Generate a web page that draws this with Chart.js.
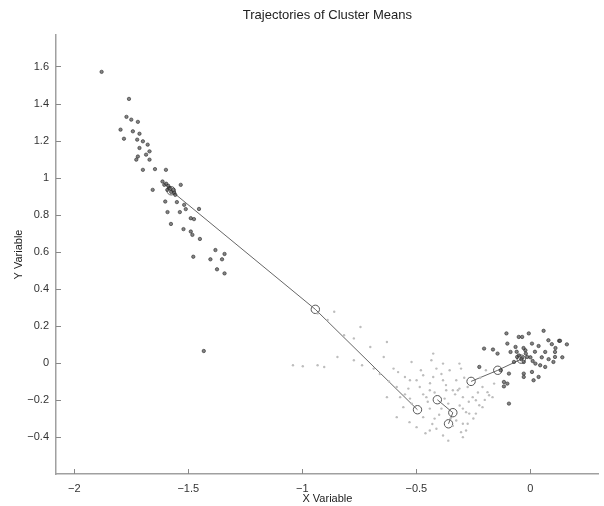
<!DOCTYPE html>
<html>
<head>
<meta charset="utf-8">
<script src="https://cdn.jsdelivr.net/npm/chart.js@4.4.1/dist/chart.umd.min.js"></script>
<style>
html,body{margin:0;padding:0;background:#fff;}
#wrap{width:604px;height:506px;position:relative;}
</style>
</head>
<body>
<div id="wrap"><canvas id="c" width="604" height="506"></canvas></div>
<script>
const chartTitle = "Trajectories of Cluster Means";
const xTitle = "X Variable";
const yTitle = "Y Variable";
const xTicks = [-2, -1.5, -1, -0.5, 0];
const yTicks = [-0.4, -0.2, 0, 0.2, 0.4, 0.6, 0.8, 1, 1.2, 1.4, 1.6];
const xRange = [-2.08, 0.30];
const yRange = [-0.60, 1.77];

// upper-left cluster (dark marks)
const clusterAX = [-1.880,-1.760,-1.771,-1.750,-1.721,-1.797,-1.743,-1.714,-1.782,-1.724,-1.699,-1.678,-1.714,-1.670,-1.721,-1.685,-1.728,-1.670,-1.699,-1.646,-1.598,-1.613,-1.605,-1.533,-1.656,
  -1.592,-1.584,-1.575,-1.566,-1.562,-1.588,-1.579,-1.557,-1.597,
  -1.601,-1.550,-1.518,-1.511,-1.453,-1.591,-1.537,-1.489,-1.475,-1.576,-1.521,-1.489,-1.482,-1.449,-1.381,-1.341,-1.478,-1.403,-1.352,-1.374,-1.341,-1.432];
const clusterAY = [1.571,1.425,1.328,1.313,1.301,1.259,1.250,1.237,1.210,1.205,1.196,1.178,1.160,1.142,1.114,1.124,1.097,1.097,1.042,1.046,1.042,0.979,0.961,0.961,0.934,
  0.934,0.945,0.923,0.934,0.918,0.956,0.940,0.907,0.967,
  0.871,0.868,0.853,0.830,0.831,0.814,0.814,0.781,0.776,0.750,0.722,0.709,0.691,0.669,0.609,0.588,0.573,0.559,0.559,0.505,0.483,0.064];

// lower-middle cluster (light grey dots)
const clusterBX = [-1.041,-0.998,-0.933,-0.904,-0.738,-0.687,-0.600,-0.521,-0.434,-0.412,-0.354,-0.304,-0.550,-0.499,-0.470,-0.426,-0.383,-0.325,-0.586,-0.535,-0.485,-0.441,-0.369,-0.318,-0.275,
  -0.571,-0.528,-0.456,-0.376,-0.296,-0.253,-0.557,-0.441,-0.390,-0.296,-0.268,-0.470,-0.420,-0.325,-0.275,-0.499,-0.412,-0.304,-0.383,-0.296,
  -0.774,-0.846,-0.817,-0.745,-0.889,-0.933,-0.860,-0.774,-0.702,-0.643,-0.629,
  -0.239,-0.210,-0.181,-0.239,-0.296,-0.282,-0.441,-0.586,-0.629,-0.528,-0.311,-0.383,-0.426,-0.195,-0.159,-0.340,-0.311,-0.224,-0.282,-0.188,-0.166,-0.210,
  -0.450,-0.420,-0.360,-0.330,-0.310,-0.370,-0.470,-0.520,-0.400,-0.350,-0.270,-0.230,-0.440,-0.550,-0.620,-0.660,-0.580,-0.480,-0.390,-0.290,-0.220,-0.340,-0.430,-0.250,-0.200,-0.530,-0.460,-0.360];
const clusterBY = [-0.013,-0.018,-0.013,-0.022,-0.013,-0.031,-0.031,0.005,0.014,-0.031,-0.040,-0.031,-0.076,-0.094,-0.067,-0.076,-0.094,-0.094,-0.130,-0.139,-0.130,-0.148,-0.148,-0.148,-0.130,
  -0.185,-0.193,-0.185,-0.193,-0.185,-0.185,-0.239,-0.247,-0.247,-0.247,-0.274,-0.293,-0.301,-0.311,-0.329,-0.347,-0.356,-0.374,-0.392,-0.401,
  0.014,0.032,0.149,0.194,0.231,0.267,0.276,0.132,0.086,0.032,0.113,
  -0.202,-0.239,-0.175,-0.274,-0.329,-0.365,-0.365,-0.293,-0.185,-0.094,-0.004,-0.004,0.050,-0.040,-0.112,-0.148,-0.139,-0.229,-0.266,-0.158,-0.185,-0.130,
  -0.210,-0.160,-0.220,-0.170,-0.230,-0.120,-0.170,-0.220,-0.280,-0.300,-0.210,-0.160,-0.110,-0.170,-0.100,-0.060,-0.050,-0.040,-0.060,-0.080,-0.080,-0.340,-0.330,-0.300,-0.200,-0.320,-0.380,-0.420];

// right cluster (dark marks)
const clusterCX = [-0.105,-0.007,0.058,-0.051,-0.036,-0.203,-0.164,-0.101,-0.065,0.007,0.036,0.079,0.126,0.094,-0.144,-0.087,-0.022,0.065,0.108,-0.058,-0.036,-0.014,-0.029,-0.072,0.022,
  0.043,0.065,0.101,0.108,-0.224,-0.130,-0.094,-0.029,-0.029,0.007,0.036,0.014,-0.116,-0.101,-0.116,-0.094,0.130,
  -0.050,-0.040,-0.020,0.000,-0.060,0.010,-0.030,0.020,0.050,0.080,0.110,0.160,0.140];
const clusterCY = [0.159,0.159,0.173,0.140,0.140,0.077,0.072,0.104,0.086,0.104,0.091,0.122,0.119,0.101,0.050,0.059,0.068,0.059,0.059,0.032,0.027,0.032,0.005,0.005,-0.004,
  -0.013,-0.022,0.005,0.032,-0.022,-0.040,-0.058,-0.058,-0.076,-0.049,-0.076,-0.094,-0.103,-0.112,-0.127,-0.220,0.119,
  0.040,0.020,0.050,0.030,0.060,0.010,0.080,0.060,0.030,0.020,0.080,0.100,0.030];

// trajectories of cluster means
const traj1X = [-1.575, -0.943, -0.495];
const traj1Y = [0.929, 0.289, -0.253];
const traj2X = [-0.359, -0.340, -0.408];
const traj2Y = [-0.329, -0.269, -0.199];
const traj3X = [-0.260, -0.143, -0.040];
const traj3Y = [-0.100, -0.040, 0.020];

const pts = (xs, ys) => xs.map((x, i) => ({x: x, y: ys[i]}));

const FONT = "'Liberation Sans', Arial, Helvetica, sans-serif";

const darkPoint = {
  showLine: false,
  pointStyle: 'circle',
  pointRadius: 1.7,
  pointBackgroundColor: 'rgba(90,90,90,0.75)',
  pointBorderColor: 'rgba(30,30,30,0.8)',
  pointBorderWidth: 0.7
};

const trajStyle = {
  showLine: true,
  borderColor: '#666',
  borderWidth: 1,
  pointStyle: 'circle',
  pointRadius: 4.2,
  pointBackgroundColor: 'rgba(255,255,255,0)',
  pointBorderColor: '#555',
  pointBorderWidth: 1
};

const innerTicks = {
  id: 'innerTicks',
  afterDraw(chart) {
    const ctx = chart.ctx;
    const xs = chart.scales.x, ys = chart.scales.y;
    const a = chart.chartArea;
    ctx.save();
    ctx.strokeStyle = '#888';
    ctx.lineWidth = 1;
    ctx.beginPath();
    xTicks.forEach(v => {
      const p = Math.round(xs.getPixelForValue(v)) + 0.5;
      ctx.moveTo(p, a.bottom);
      ctx.lineTo(p, a.bottom - 5);
    });
    yTicks.forEach(v => {
      const p = Math.round(ys.getPixelForValue(v)) + 0.5;
      ctx.moveTo(a.left, p);
      ctx.lineTo(a.left + 5, p);
    });
    ctx.stroke();
    // title
    ctx.fillStyle = '#222';
    ctx.font = '13px ' + FONT;
    ctx.textAlign = 'center';
    ctx.textBaseline = 'middle';
    ctx.fillText(chartTitle, (a.left + a.right) / 2, 15);
    ctx.restore();
  }
};

new Chart(document.getElementById('c'), {
  type: 'scatter',
  data: {
    datasets: [
      Object.assign({ label: 'Cluster B', data: pts(clusterBX, clusterBY),
        showLine: false, pointRadius: 1.2, pointBackgroundColor: '#bdbdbd', pointBorderWidth: 0 }),
      Object.assign({ label: 'Cluster A', data: pts(clusterAX, clusterAY) }, darkPoint),
      Object.assign({ label: 'Cluster C', data: pts(clusterCX, clusterCY) }, darkPoint),
      Object.assign({ label: 'Trajectory 1', data: pts(traj1X, traj1Y) }, trajStyle),
      Object.assign({ label: 'Trajectory 2', data: pts(traj2X, traj2Y) }, trajStyle),
      Object.assign({ label: 'Trajectory 3', data: pts(traj3X, traj3Y) }, trajStyle)
    ]
  },
  options: {
    responsive: false,
    animation: false,
    layout: { padding: { top: 35, right: 0, left: 0, bottom: 0 } },
    plugins: { legend: { display: false }, tooltip: { enabled: false } },
    scales: {
      x: {
        type: 'linear',
        min: xRange[0], max: xRange[1],
        afterBuildTicks: s => { s.ticks = xTicks.map(v => ({value: v})); },
        afterFit: s => { s.height = 32; },
        grid: { display: true, drawOnChartArea: false, drawTicks: false },
        border: { display: true, color: '#a0a0a0', width: 1.5 },
        ticks: { color: '#333', font: { size: 11, family: FONT }, padding: 8,
          maxRotation: 0, autoSkip: false, callback: v => String(v).replace('-', '\u2212') },
        title: { display: true, text: xTitle, color: '#222', font: { size: 11, family: FONT }, padding: { top: 0, bottom: 0 } }
      },
      y: {
        type: 'linear',
        min: yRange[0], max: yRange[1],
        afterBuildTicks: s => { s.ticks = yTicks.map(v => ({value: v})); },
        afterFit: s => { s.width = 56; },
        grid: { display: true, drawOnChartArea: false, drawTicks: false },
        border: { display: true, color: '#a0a0a0', width: 1.5 },
        ticks: { color: '#333', font: { size: 11, family: FONT }, padding: 7,
          autoSkip: false, callback: v => String(Math.round(v * 10) / 10).replace('-', '\u2212') },
        title: { display: true, text: yTitle, color: '#222', font: { size: 11, family: FONT }, padding: { top: 12, bottom: 0 } }
      }
    }
  },
  plugins: [innerTicks]
});
</script>
</body>
</html>
